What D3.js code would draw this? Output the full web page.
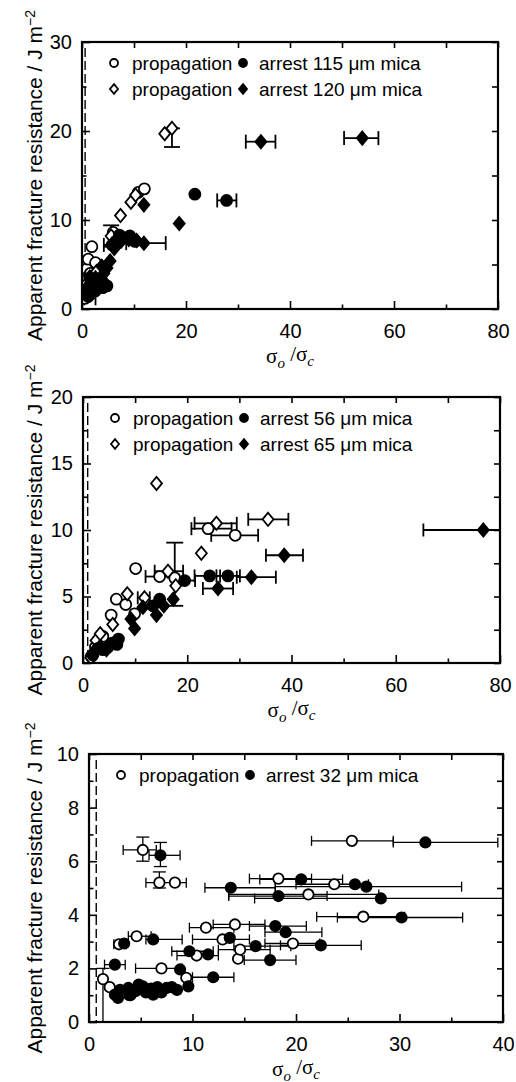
<!DOCTYPE html>
<html>
<head>
<meta charset="utf-8">
<script src="https://cdn.jsdelivr.net/npm/d3@7"></script>
<style>
  body { margin: 0; background: #fff; }
  svg { display: block; }
</style>
</head>
<body>
<div id="chart"></div>
<script>
// ---- panel 1: 115 um / 120 um mica ----
const p1XTicks = [0, 20, 40, 60, 80];
const p1XMinor = [10, 30, 50, 70];
const p1YTicks = [0, 10, 20, 30];
const p1YMinor = [5, 15, 25];
const p1Legend = ['arrest 115 \u03bcm mica', 'arrest 120 \u03bcm mica'];

const p1OpenCircle = [
  {x: 0.6, y: 1.2, xe: [0.4, 2.6]}, {x: 0.5, y: 2.1}, {x: 0.7, y: 3.2}, {x: 0.9, y: 4.5},
  {x: 1.2, y: 5.6}, {x: 1.9, y: 7.0}, {x: 1.6, y: 4.0}, {x: 2.6, y: 5.2},
  {x: 6.0, y: 8.6}, {x: 6.8, y: 8.0}, {x: 10.8, y: 13.1}, {x: 12.0, y: 13.5}
];
const p1FillCircle = [
  {x: 1.2, y: 1.4}, {x: 1.0, y: 2.0}, {x: 1.5, y: 3.5}, {x: 2.5, y: 2.0},
  {x: 2.0, y: 2.6}, {x: 3.0, y: 3.0}, {x: 3.5, y: 3.2}, {x: 4.0, y: 2.4}, {x: 4.8, y: 2.6},
  {x: 5.8, y: 7.2, xe: [4.2, 6.2]}, {x: 6.5, y: 7.6}, {x: 7.2, y: 8.3}, {x: 8.2, y: 8.0},
  {x: 9.2, y: 8.2}, {x: 10.2, y: 7.6}, {x: 21.7, y: 12.9}, {x: 27.8, y: 12.2, xe: [26.0, 29.7]}
];
const p1OpenDiamond = [
  {x: 0.8, y: 2.8}, {x: 1.5, y: 3.6}, {x: 2.8, y: 4.2}, {x: 5.6, y: 8.2, ye: [7.0, 9.4]},
  {x: 7.4, y: 10.5}, {x: 9.4, y: 12.0}, {x: 10.3, y: 12.8},
  {x: 15.9, y: 19.7}, {x: 17.3, y: 20.3, ye: [18.2, 20.3]}
];
const p1FillDiamond = [
  {x: 1.2, y: 2.6}, {x: 1.8, y: 3.0}, {x: 2.6, y: 3.5}, {x: 3.3, y: 2.6}, {x: 4.0, y: 3.2},
  {x: 3.8, y: 4.8}, {x: 2.2, y: 2.2}, {x: 3.0, y: 2.8}, {x: 3.6, y: 3.4}, {x: 4.2, y: 4.0},
  {x: 4.8, y: 4.6}, {x: 5.4, y: 5.4}, {x: 6.2, y: 6.8}, {x: 7.5, y: 7.6},
  {x: 9.0, y: 7.8}, {x: 10.5, y: 7.7}, {x: 11.9, y: 7.4, xe: [8.5, 16.1]},
  {x: 11.9, y: 11.7}, {x: 18.7, y: 9.6},
  {x: 34.4, y: 18.8, xe: [31.5, 37.2]}, {x: 53.9, y: 19.2, xe: [50.4, 57.0]}
];

// ---- panel 2: 56 um / 65 um mica ----
const p2XTicks = [0, 20, 40, 60, 80];
const p2XMinor = [10, 30, 50, 70];
const p2YTicks = [0, 5, 10, 15, 20];
const p2YMinor = [2.5, 7.5, 12.5, 17.5];
const p2Legend = ['arrest 56 \u03bcm mica', 'arrest 65 \u03bcm mica'];

const p2OpenCircle = [
  {x: 1.6, y: 0.5}, {x: 2.4, y: 1.2}, {x: 3.8, y: 2.0}, {x: 5.4, y: 3.6},
  {x: 6.4, y: 4.8}, {x: 8.2, y: 4.4}, {x: 9.9, y: 3.7}, {x: 10.1, y: 7.1},
  {x: 14.7, y: 6.5, xe: [12.0, 17.0]}, {x: 17.6, y: 6.4, ye: [4.3, 9.05]},
  {x: 24.0, y: 10.1, xe: [20.8, 28.5]}, {x: 29.2, y: 9.6, xe: [24.6, 33.6]}
];
const p2FillCircle = [
  {x: 1.9, y: 0.6}, {x: 2.9, y: 1.1}, {x: 3.8, y: 1.0}, {x: 4.8, y: 1.2},
  {x: 5.6, y: 1.5}, {x: 6.5, y: 1.4}, {x: 6.8, y: 1.8}, {x: 13.4, y: 4.3},
  {x: 14.7, y: 4.8}, {x: 19.5, y: 6.2, xe: [17.5, 21.5]},
  {x: 24.3, y: 6.55, xe: [21.4, 26.3]}, {x: 27.8, y: 6.55, xe: [25.6, 30.1]}
];
const p2OpenDiamond = [
  {x: 1.5, y: 0.4}, {x: 2.5, y: 1.7}, {x: 3.3, y: 2.2}, {x: 5.7, y: 2.9},
  {x: 8.5, y: 5.2}, {x: 11.8, y: 4.9, xe: [10.5, 12.8]}, {x: 14.1, y: 13.5},
  {x: 16.3, y: 6.9, xe: [13.75, 19.2]}, {x: 17.8, y: 5.8}, {x: 22.7, y: 8.25},
  {x: 25.6, y: 10.5, xe: [21.4, 29.5]}, {x: 35.5, y: 10.8, xe: [31.7, 39.4]}
];
const p2FillDiamond = [
  {x: 2.2, y: 0.9}, {x: 3.2, y: 1.2}, {x: 4.5, y: 1.0}, {x: 5.2, y: 1.3},
  {x: 9.2, y: 3.3}, {x: 9.9, y: 2.6}, {x: 11.5, y: 4.2}, {x: 14.1, y: 3.6},
  {x: 15.5, y: 4.3}, {x: 17.3, y: 4.8}, {x: 25.9, y: 5.6, xe: [23.0, 28.8]},
  {x: 32.3, y: 6.45, xe: [29.5, 37.0]}, {x: 38.6, y: 8.1, xe: [35.1, 42.2]},
  {x: 76.8, y: 10.0, xe: [65.3, 88.0]}
];

// ---- panel 3: 32 um mica ----
const p3XTicks = [0, 10, 20, 30, 40];
const p3XMinor = [5, 15, 25, 35];
const p3YTicks = [0, 2, 4, 6, 8, 10];
const p3YMinor = [1, 3, 5, 7, 9];
const p3Legend = ['arrest 32 \u03bcm mica'];

const p3OpenCircle = [
  {x: 1.35, y: 1.6, ye: [0, 2.0]}, {x: 2.0, y: 1.3}, {x: 2.9, y: 2.9, xe: [2.4, 3.6]},
  {x: 3.9, y: 1.0}, {x: 4.6, y: 3.2, xe: [3.8, 6.0]},
  {x: 5.2, y: 6.42, xe: [3.3, 6.5], ye: [6.0, 6.9]}, {x: 6.8, y: 5.2, ye: [5.0, 5.6]},
  {x: 8.3, y: 5.2, xe: [5.5, 9.4]}, {x: 7.0, y: 2.0, xe: [4.5, 9.0]}, {x: 9.4, y: 1.65},
  {x: 10.4, y: 2.48, xe: [8.5, 12.5]}, {x: 11.3, y: 3.52, xe: [9.7, 14.0]},
  {x: 12.9, y: 3.08, xe: [10.0, 15.5]}, {x: 14.1, y: 3.64, xe: [12.0, 17.0]},
  {x: 14.4, y: 2.36}, {x: 14.6, y: 2.7, xe: [12.5, 17.5]},
  {x: 18.3, y: 5.35, xe: [15.5, 21.5]}, {x: 19.7, y: 2.93, xe: [17.0, 22.3]},
  {x: 21.2, y: 4.76, xe: [13.5, 28.0]}, {x: 23.7, y: 5.14, xe: [20.0, 27.0]},
  {x: 25.4, y: 6.76, xe: [21.5, 29.4]}, {x: 26.5, y: 3.93, xe: [22.0, 30.5]}
];
const p3FillCircle = [
  {x: 2.5, y: 2.14, xe: [1.5, 3.5]}, {x: 3.4, y: 2.93}, {x: 2.5, y: 1.02}, {x: 3.0, y: 1.2},
  {x: 2.8, y: 0.9}, {x: 4.0, y: 1.0}, {x: 5.5, y: 1.1}, {x: 7.0, y: 1.1}, {x: 8.0, y: 1.3},
  {x: 4.8, y: 1.4}, {x: 6.6, y: 1.3},
  {x: 3.8, y: 1.27}, {x: 4.5, y: 1.15}, {x: 5.2, y: 1.33}, {x: 6.2, y: 1.02},
  {x: 6.0, y: 1.25}, {x: 7.5, y: 1.27}, {x: 8.5, y: 1.2}, {x: 9.6, y: 1.33},
  {x: 6.2, y: 3.08, xe: [5.5, 9.0]}, {x: 6.9, y: 6.22, xe: [5.8, 8.8], ye: [5.8, 6.7]},
  {x: 8.8, y: 1.96}, {x: 9.7, y: 2.64, xe: [8.0, 12.0]}, {x: 11.5, y: 2.52},
  {x: 12.0, y: 1.67, xe: [10.0, 14.0]}, {x: 13.6, y: 3.14},
  {x: 13.7, y: 5.01, xe: [11.2, 18.0]}, {x: 16.1, y: 2.83, xe: [14.0, 19.5]},
  {x: 17.5, y: 2.31, xe: [15.0, 20.0]}, {x: 18.0, y: 3.58, xe: [15.5, 21.0]},
  {x: 18.3, y: 4.7, xe: [13.5, 23.0]}, {x: 19.0, y: 3.35, xe: [17.0, 22.5]},
  {x: 20.5, y: 5.32, xe: [16.5, 24.5]}, {x: 22.4, y: 2.86, xe: [18.5, 26.3]},
  {x: 25.7, y: 5.14}, {x: 26.8, y: 5.05, xe: [18.0, 36.0]},
  {x: 28.2, y: 4.61, xe: [16.0, 41.0]}, {x: 30.2, y: 3.9, xe: [24.0, 36.1]},
  {x: 32.5, y: 6.7, xe: [29.4, 39.5]}
];

// dashed line position (sigma_o / sigma_c)
const criticalLine = [0.6, 0.9, 0.7];

// layout of the three frames, pixels
const layout = [
  {left: 82, right: 498, top: 42, bottom: 309, cap: 7, capY: 8, errW: 1.8, r: 5.5},
  {left: 83, right: 500, top: 397, bottom: 663, cap: 6.5, capY: 8.5, errW: 1.8, r: 5.5},
  {left: 89, right: 503, top: 754, bottom: 1022, cap: 5, capY: 6.5, errW: 1.3, r: 5.2}
];

const panels = [
  {xTicks: p1XTicks, xMinor: p1XMinor, yTicks: p1YTicks, yMinor: p1YMinor, legend: p1Legend,
   series: [
     {data: p1OpenCircle, shape: 'circle', filled: false},
     {data: p1OpenDiamond, shape: 'diamond', filled: false},
     {data: p1FillCircle, shape: 'circle', filled: true},
     {data: p1FillDiamond, shape: 'diamond', filled: true}]},
  {xTicks: p2XTicks, xMinor: p2XMinor, yTicks: p2YTicks, yMinor: p2YMinor, legend: p2Legend,
   series: [
     {data: p2OpenCircle, shape: 'circle', filled: false},
     {data: p2OpenDiamond, shape: 'diamond', filled: false},
     {data: p2FillCircle, shape: 'circle', filled: true},
     {data: p2FillDiamond, shape: 'diamond', filled: true}]},
  {xTicks: p3XTicks, xMinor: p3XMinor, yTicks: p3YTicks, yMinor: p3YMinor, legend: p3Legend,
   series: [
     {data: p3OpenCircle, shape: 'circle', filled: false},
     {data: p3FillCircle, shape: 'circle', filled: true}]}
];

const sans = "'Liberation Sans', Arial, Helvetica, sans-serif";
const serif = "'Liberation Serif', 'Times New Roman', serif";

const svg = d3.select('#chart')
  .append('svg')
  .attr('width', 516)
  .attr('height', 1082)
  .style('background', '#fff');

function markerPath(shape, r) {
  if (shape === 'circle') return d3.symbol(d3.symbolCircle, Math.PI * r * r)();
  const h = r * 1.2;
  return `M0,${-h}L${r},0L0,${h}L${-r},0Z`;
}

function drawMarker(g, shape, filled, cx, cy, r) {
  g.append('path')
    .attr('d', markerPath(shape, r))
    .attr('transform', `translate(${cx},${cy})`)
    .attr('fill', filled ? '#000' : '#fff')
    .attr('stroke', '#000')
    .attr('stroke-width', 1.8);
}

// inward ticks on one side of the frame
function ticks(g, axis, transform, values, len, labelled, pad) {
  const a = g.append('g')
    .attr('transform', transform)
    .call(axis.tickValues(values).tickSize(-len).tickSizeOuter(0)
      .tickPadding(pad || 0).tickFormat(labelled ? d3.format('') : ''));
  a.attr('font-family', null).attr('font-size', null);
  a.select('.domain').remove();
  a.selectAll('line').attr('stroke', '#000').attr('stroke-width', 1.6);
  a.selectAll('text')
    .attr('fill', '#000')
    .style('font-family', sans)
    .style('font-size', '20px');
}

panels.forEach((p, i) => {
  const L = layout[i];
  const x = d3.scaleLinear().domain([p.xTicks[0], p.xTicks[p.xTicks.length - 1]]).range([L.left, L.right]);
  const y = d3.scaleLinear().domain([p.yTicks[0], p.yTicks[p.yTicks.length - 1]]).range([L.bottom, L.top]);
  const g = svg.append('g');

  svg.append('clipPath').attr('id', 'clip' + i)
    .append('rect')
    .attr('x', L.left).attr('y', L.top)
    .attr('width', L.right - L.left).attr('height', L.bottom - L.top);

  // ticks, major and minor, on all four sides
  ticks(g, d3.axisBottom(x), `translate(0,${L.bottom})`, p.xTicks, 8, true, 15);
  ticks(g, d3.axisBottom(x), `translate(0,${L.bottom})`, p.xMinor, 4.5, false);
  ticks(g, d3.axisTop(x), `translate(0,${L.top})`, p.xTicks.concat(p.xMinor), 6, false);
  ticks(g, d3.axisLeft(y), `translate(${L.left},0)`, p.yTicks, 8, true, 10);
  ticks(g, d3.axisLeft(y), `translate(${L.left},0)`, p.yMinor, 4.5, false);
  ticks(g, d3.axisRight(y), `translate(${L.right},0)`, p.yTicks.concat(p.yMinor), 6, false);

  // dashed line
  g.append('line')
    .attr('x1', x(criticalLine[i])).attr('x2', x(criticalLine[i]))
    .attr('y1', L.top + 6).attr('y2', L.bottom)
    .attr('stroke', '#000').attr('stroke-width', 1.4)
    .attr('stroke-dasharray', '9,4');

  // error bars
  const eb = g.append('g')
    .attr('clip-path', `url(#clip${i})`)
    .attr('stroke', '#000')
    .attr('stroke-width', L.errW)
    .attr('fill', 'none');
  p.series.forEach(s => {
    s.data.forEach(d => {
      if (d.xe) {
        const yy = y(d.y);
        eb.append('line').attr('x1', x(d.xe[0])).attr('x2', x(d.xe[1])).attr('y1', yy).attr('y2', yy);
        d.xe.forEach(v => {
          eb.append('line').attr('x1', x(v)).attr('x2', x(v))
            .attr('y1', yy - L.cap).attr('y2', yy + L.cap);
        });
      }
      if (d.ye) {
        const xx = x(d.x);
        eb.append('line').attr('x1', xx).attr('x2', xx).attr('y1', y(d.ye[0])).attr('y2', y(d.ye[1]));
        d.ye.forEach(v => {
          eb.append('line').attr('x1', xx - L.capY).attr('x2', xx + L.capY)
            .attr('y1', y(v)).attr('y2', y(v));
        });
      }
    });
  });

  // markers
  const mk = g.append('g').attr('clip-path', `url(#clip${i})`);
  p.series.forEach(s => {
    s.data.forEach(d => drawMarker(mk, s.shape, s.filled, x(d.x), y(d.y), L.r));
  });

  // frame
  g.append('rect')
    .attr('x', L.left).attr('y', L.top)
    .attr('width', L.right - L.left).attr('height', L.bottom - L.top)
    .attr('fill', 'none').attr('stroke', '#000').attr('stroke-width', 2.2);

  // legend
  p.legend.forEach((label, r) => {
    const shape = r === 0 ? 'circle' : 'diamond';
    const ly = L.top + 21 + r * 26;
    drawMarker(g, shape, false, L.left + 32, ly, 4);
    g.append('text').attr('x', L.left + 50).attr('y', ly).attr('dy', '0.35em')
      .style('font-family', sans).style('font-size', '19px').text('propagation');
    drawMarker(g, shape, true, L.left + 161, ly, 4);
    g.append('text').attr('x', L.left + 177).attr('y', ly).attr('dy', '0.35em')
      .style('font-family', sans).style('font-size', '19px').text(label);
  });

  // y title
  const yt = g.append('text')
    .attr('transform', `translate(35,${(L.top + L.bottom) / 2}) rotate(-90)`)
    .attr('text-anchor', 'middle')
    .attr('dy', '0.35em')
    .style('font-family', sans)
    .style('font-size', '21px');
  yt.append('tspan').text('Apparent fracture resistance / J m');
  yt.append('tspan').attr('dy', '-0.55em').style('font-size', '14px').text('\u22122');

  // x title
  const xt = g.append('text')
    .attr('x', (L.left + L.right) / 2)
    .attr('y', L.bottom + 54)
    .attr('text-anchor', 'middle')
    .style('font-family', serif)
    .style('font-size', '21px');
  xt.append('tspan').text('\u03c3');
  xt.append('tspan').attr('dy', '0.3em').style('font-style', 'italic').style('font-size', '15px').text('o');
  xt.append('tspan').attr('dy', '-0.3em').text(' /\u03c3');
  xt.append('tspan').attr('dy', '0.3em').style('font-style', 'italic').style('font-size', '15px').text('c');
});
</script>
</body>
</html>
